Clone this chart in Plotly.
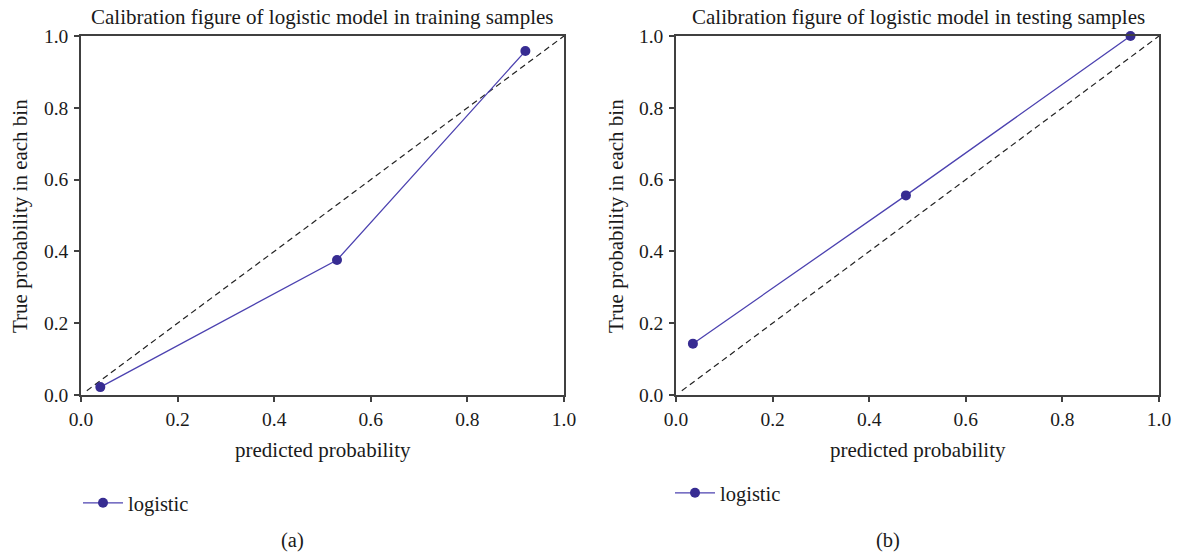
import plotly.graph_objects as go

W, H = 1178, 553

train_pred = [0.04, 0.53, 0.92]
train_true = [0.022, 0.376, 0.958]
test_pred = [0.035, 0.476, 0.941]
test_true = [0.143, 0.556, 1.0]
diag_train = [0.012, 1.0]
diag_test = [0.012, 1.0]
tick_vals = [0.0, 0.2, 0.4, 0.6, 0.8, 1.0]
tick_text = ["0.0", "0.2", "0.4", "0.6", "0.8", "1.0"]

FONT = "Liberation Serif"
LINE_C = "#4c42b0"
MARK_C = "#372c92"
AX_C = "#404040"
TXT_C = "#1a1a1a"

def px(x):
    return x / W

def py(y):
    return 1 - y / H

fig = go.Figure()

fig.add_trace(go.Scatter(x=diag_train, y=diag_train, mode="lines",
                         line=dict(color="#222222", width=1.2, dash="6px,4px"),
                         showlegend=False, xaxis="x", yaxis="y", hoverinfo="skip"))
fig.add_trace(go.Scatter(x=train_pred, y=train_true, mode="lines+markers", name="logistic",
                         line=dict(color=LINE_C, width=1.3),
                         marker=dict(color=MARK_C, size=10),
                         xaxis="x", yaxis="y", legend="legend", cliponaxis=False))
fig.add_trace(go.Scatter(x=diag_test, y=diag_test, mode="lines",
                         line=dict(color="#222222", width=1.2, dash="6px,4px"),
                         showlegend=False, xaxis="x2", yaxis="y2", hoverinfo="skip"))
fig.add_trace(go.Scatter(x=test_pred, y=test_true, mode="lines+markers", name="logistic",
                         line=dict(color=LINE_C, width=1.3),
                         marker=dict(color=MARK_C, size=10),
                         xaxis="x2", yaxis="y2", legend="legend2", cliponaxis=False))

axis_common = dict(range=[0, 1], showgrid=False, zeroline=False, showline=True,
                   linecolor=AX_C, linewidth=1.5, mirror=True, ticks="outside",
                   ticklen=5, tickwidth=1.5, tickcolor=AX_C,
                   tickvals=tick_vals, ticktext=tick_text, automargin=False,
                   tickfont=dict(family=FONT, size=19.5, color=TXT_C))

ydom = [py(395), py(36)]
fig.update_layout(
    width=W, height=H,
    margin=dict(l=0, r=0, t=0, b=0),
    paper_bgcolor="white", plot_bgcolor="white",
    font=dict(family=FONT, color=TXT_C),
    xaxis=dict(domain=[px(81), px(564)], anchor="y", ticklabelstandoff=1, **axis_common),
    yaxis=dict(domain=ydom, anchor="x", ticklabelstandoff=2, **axis_common),
    xaxis2=dict(domain=[px(676), px(1159)], anchor="y2", ticklabelstandoff=1, **axis_common),
    yaxis2=dict(domain=ydom, anchor="x2", ticklabelstandoff=2, **axis_common),
    legend=dict(x=px(78), y=py(503), xanchor="left", yanchor="middle",
                font=dict(family=FONT, size=20.5, color=TXT_C),
                bgcolor="rgba(0,0,0,0)", itemwidth=40),
    legend2=dict(x=px(670), y=py(493), xanchor="left", yanchor="middle",
                 font=dict(family=FONT, size=20.5, color=TXT_C),
                 bgcolor="rgba(0,0,0,0)", itemwidth=40),
)

annots = [
    ("Calibration figure of logistic model in training samples", 322, 17, 0, 21),
    ("Calibration figure of logistic model in testing samples", 918, 17, 0, 21),
    ("predicted probability", 323, 450, 0, 21),
    ("predicted probability", 918, 450, 0, 21),
    ("True probability in each bin", 20, 216, -90, 21),
    ("True probability in each bin", 616, 216, -90, 21),
    ("(a)", 292, 540, 0, 20.5),
    ("(b)", 888, 540, 0, 20.5),
]
for text, x, y, ang, size in annots:
    fig.add_annotation(text=text, x=px(x), y=py(y), xref="paper", yref="paper",
                       xanchor="center", yanchor="middle", showarrow=False,
                       textangle=ang, font=dict(family=FONT, size=size, color=TXT_C))

fig.write_html("out.html")
